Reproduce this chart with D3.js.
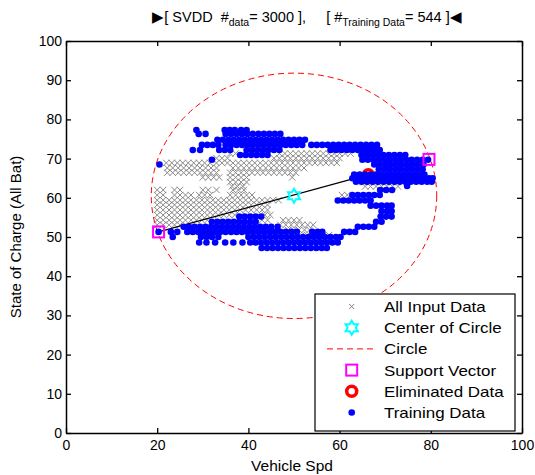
<!DOCTYPE html>
<html><head><meta charset="utf-8">
<script src="https://cdn.jsdelivr.net/npm/d3@7"></script>
<style>body{margin:0;background:#fff}svg text{font-family:"Liberation Sans",Arial,sans-serif;white-space:pre}</style>
</head><body><svg id="c" width="535" height="475"></svg>
<script>
const xTicks=[0,20,40,60,80,100];
const yTicks=[0,10,20,30,40,50,60,70,80,90,100];
// each row: [SOC, speed1, speed2, ...]
const allInputRows=[
[71.3,36.0,37.2,46.8,48.0,49.2,50.4,51.6,52.8,54.0,55.2,56.4,57.6,58.8,60.0,61.2,62.4],
[70.1,33.0,34.2,35.4,45.6,46.8,48.0,49.2,50.4,51.6,52.8,54.0,55.2,56.4,57.6,58.8,60.0],
[68.9,22.0,23.2,24.4,25.6,26.8,28.0,29.2,30.4,31.6,33.0,34.2,35.4,36.6,37.8,39.0,40.2,41.4,42.6,43.8,45.0,46.2,47.4,48.6,49.8,51.0,52.2,53.4,54.6,55.8,57.0,58.2,59.4],
[67.6,22.2,23.4,24.6,25.8,27.0,28.2,29.4,30.6,31.8,33.0,36.6,37.8,39.0,40.2,41.4,42.6,43.8,45.0,46.2,47.4,48.6,49.8,51.0,52.2],
[66.4,22.2,23.4,24.6,25.8,27.0,28.2,29.4,30.6,31.8,33.0,36.0,37.2,38.4,39.6,40.8,42.0,43.2,44.4,45.6,46.8,48.0,49.2,50.4],
[65.2,30.0,31.2,32.4,33.6,36.0,37.2,38.4,39.6,49.6],
[64.0,36.0,37.2,38.4,39.6,65.4,66.6,67.8,69.0,70.2,71.4,72.6,73.8],
[62.9,36.4,37.6,38.8,65.6,66.8,68.0,69.2,70.4,71.6,72.8],
[62.0,20.0,21.3,23.8,25.0,30.0,31.2,33.0,36.6,37.8,39.0],
[60.7,20.0,21.3,23.8,25.0,26.2,27.4,29.2,30.4,31.6,36.0,37.2,38.4,39.6,40.8,60.5,61.7],
[59.4,20.0,21.3,22.6,23.8,25.0,26.2,27.4,28.6,29.8,31.0,32.2,33.4,34.6,35.8,37.0,38.2,39.4,40.6,41.8,43.0,44.2,45.4,46.6],
[58.2,20.0,21.3,22.6,23.8,25.0,26.2,27.4,28.6,29.8,31.0,32.2,33.4,34.6,35.8,37.0,38.2,39.4,40.6,41.8,43.0,44.2],
[56.9,20.0,21.3,22.6,23.8,25.0,26.2,27.4,28.6,29.8,31.0,32.2,33.4,34.6,35.8,37.0,38.2,39.4,40.6,41.8,43.0,44.2],
[55.6,20.0,21.3,22.6,23.8,25.0,26.2,27.4,28.6,29.8,31.0,32.2,33.4,34.6,35.8,37.0,43.6,44.8],
[54.3,20.0,21.3,22.6,23.8,25.0,26.2,27.4,28.6,29.8,31.0,43.0,44.2,47.6,48.8,50.0,51.2],
[53.1,20.0,21.3,22.6,23.8,25.0,47.0,48.2,49.4,50.6,51.8,53.0,54.2],
[51.8,48.7,49.9,51.1,52.3,53.4],
[50.5,50.5,51.7,52.9,54.1,55.3,56.5,57.7],
[49.2,50.5,51.7,52.9,54.1,55.3,56.5,57.7]
];
const trainingRows=[
[77.3,28.6,34.8,35.9,37.0,38.4,39.6],
[76.3,29.1,30.6,35.0,36.2,37.4,38.6,39.8,41.0,42.2,43.4,44.6,45.8,47.0],
[74.8,33.2,34.4,35.6,36.8,38.0,39.2,40.4,41.6,42.8,44.0,45.2,46.4,47.6,48.8,50.0,51.2,52.4],
[73.5,29.8,31.0,32.2,33.4,35.0,36.2,37.4,38.6,39.8,41.0,42.2,43.4,44.6,45.8,47.0,48.2,49.4,50.6,51.8,53.8,55.0,56.2,57.4,58.6,59.8,61.0,62.2,63.4,64.6,65.8,67.0,68.2],
[72.2,27.8,29.4,33.6,34.8,36.0,39.6,40.8,42.0,43.2,44.4,45.6,46.8,58.0,59.2,60.4,61.6,62.8,64.0,65.2,66.4,67.6,68.8],
[70.9,38.2,39.4,40.6,41.8,43.0,44.2,64.8,66.0,67.2,68.4,69.6,70.8,72.0,73.2,74.4],
[69.7,32.0,65.0,66.2,67.4,68.6,69.8,71.0,72.2,73.4,74.6,75.8,77.0,78.2,79.4],
[68.5,20.5,67.6,68.8,70.0,71.2,72.4,73.6,74.8,76.0,77.2,78.4],
[67.3,68.6,69.8,71.0,72.2,73.4,74.6,75.8,77.0,78.2],
[65.9,63.2,64.4,65.6,66.8,68.0,69.2,70.4,71.6,72.8,74.0,75.2,76.4,77.6,78.6],
[65.0,62.8,64.0,65.2,66.4,67.6,68.8,70.0,71.2,72.4,73.6,74.8,76.0,77.2,78.4,79.6,80.4],
[64.1,63.6,64.8,66.0,67.2,68.4,69.6,70.8,72.0,73.2,74.4,75.6,76.8,78.0,79.2,80.2],
[63.0,74.8],
[62.0,68.9,70.2,71.5],
[60.7,62.8,64.0,65.2,66.4,67.6,68.8],
[59.3,59.6,60.8,62.0,63.2,64.4,65.6,66.8],
[58.0,66.8,68.0,69.2,70.4,71.4],
[56.6,69.2,70.4,71.4],
[55.2,38.0,39.2,40.4,41.6,42.8,69.0,70.2,71.4],
[53.9,32.0,33.2,34.4,35.6,36.8,38.0,39.2,40.4,41.6,68.0,69.2],
[52.6,25.8,27.0,28.2,29.4,30.6,31.8,33.0,34.2,35.4,36.6,37.8,39.0,40.2,41.4,42.6,43.8,45.0,46.4,64.0,65.2,66.4,67.6],
[51.3,20.3,23.0,24.4,26.6,27.8,29.0,30.2,31.4,32.6,33.8,35.0,36.2,37.4,38.6,39.8,41.0,42.2,43.4,44.6,45.8,47.0,48.2,49.4,50.6,54.0,55.2,56.2,61.0,62.2,63.4],
[50.0,23.4,29.6,30.8,32.0,33.4,40.0,41.2,42.4,43.6,44.8,46.0,47.2,48.4,49.6,50.8,52.0,53.2,54.4,55.6,56.8,58.0,59.2,60.2],
[48.6,29.2,30.8,32.7,34.9,36.7,38.7,40.4,41.6,42.8,44.0,45.2,46.4,47.6,48.8,50.0,51.2,52.4,53.6,54.8,56.0,57.2,58.4,59.6],
[47.2,42.9,44.1,45.3,46.5,47.7,48.9,50.1,51.3,52.5,53.7,54.9,56.1,57.2]
];
const circleCenter=[50,60.5];
const circleRadius=31.3;
const supportVectors=[[20.3,51.3],[79.6,69.8]];
const eliminatedData=[[66.3,65.9]];
const radiusLine=[[20.3,51.3],[66.3,65.9]];
const legendLabels=["All Input Data","Center of Circle","Circle","Support Vector","Eliminated Data","Training Data"];

const svg=d3.select("#c");
const x=d3.scaleLinear().domain([0,100]).range([66,522]);
const y=d3.scaleLinear().domain([0,100]).range([433,41]);
const FS=14;

function rowsToPoints(rows){const p=[];rows.forEach(r=>{for(let i=1;i<r.length;i++)p.push([r[i],r[0]]);});return p;}
const allPts=rowsToPoints(allInputRows), trainPts=rowsToPoints(trainingRows);

function hexagram(R){const r=R/Math.sqrt(3);let d="";for(let i=0;i<12;i++){const a=-Math.PI/2+i*Math.PI/6;const rr=i%2?r:R;d+=(i?"L":"M")+(rr*Math.cos(a)).toFixed(2)+","+(rr*Math.sin(a)).toFixed(2);}return d+"Z";}
const xMark="M-3.2,-3.2L3.2,3.2M-3.2,3.2L3.2,-3.2";

// all input data
svg.append("g").selectAll("path").data(allPts).join("path")
 .attr("transform",d=>`translate(${x(d[0])},${y(d[1])})`).attr("d",xMark)
 .attr("stroke","#8a8a8a").attr("stroke-width",1).attr("fill","none");

// circle
svg.append("ellipse").attr("cx",x(circleCenter[0])).attr("cy",y(circleCenter[1]))
 .attr("rx",x(circleCenter[0]+circleRadius)-x(circleCenter[0]))
 .attr("ry",y(circleCenter[1])-y(circleCenter[1]+circleRadius))
 .attr("fill","none").attr("stroke","#ff0000").attr("stroke-width",1).attr("stroke-dasharray","6,4");

// radius line
svg.append("path").attr("d",d3.line().x(d=>x(d[0])).y(d=>y(d[1]))(radiusLine))
 .attr("stroke","#000").attr("stroke-width",1.2).attr("fill","none");

// center
svg.append("path").attr("transform",`translate(${x(circleCenter[0])},${y(circleCenter[1])})`)
 .attr("d",hexagram(7)).attr("fill","none").attr("stroke","#00ffff").attr("stroke-width",2);

// eliminated
svg.append("g").selectAll("circle").data(eliminatedData).join("circle")
 .attr("cx",d=>x(d[0])).attr("cy",d=>y(d[1])).attr("r",5).attr("fill","#fff")
 .attr("stroke","#ff0000").attr("stroke-width",3.5);

// training
svg.append("g").selectAll("circle").data(trainPts).join("circle")
 .attr("cx",d=>x(d[0])).attr("cy",d=>y(d[1])).attr("r",3.3).attr("fill","#0000ff");

// support vectors
svg.append("g").selectAll("rect").data(supportVectors).join("rect")
 .attr("x",d=>x(d[0])-5.5).attr("y",d=>y(d[1])-5.5).attr("width",11).attr("height",11)
 .attr("fill","none").attr("stroke","#ff00ff").attr("stroke-width",2);

// axes
function styleAxis(g){g.selectAll("path,line").attr("stroke","#000").attr("stroke-width",1.3);g.selectAll("text").attr("font-size",FS).attr("fill","#000").attr("font-family","Liberation Sans, Arial, sans-serif");}
svg.append("g").attr("transform","translate(0,433)").call(d3.axisBottom(x).tickValues(xTicks).tickSizeInner(-5).tickSizeOuter(0).tickPadding(7)).call(styleAxis);
svg.append("g").attr("transform","translate(0,41)").call(d3.axisTop(x).tickValues(xTicks).tickSizeInner(-5).tickSizeOuter(0).tickFormat("")).call(styleAxis);
svg.append("g").attr("transform","translate(66,0)").call(d3.axisLeft(y).tickValues(yTicks).tickSizeInner(-5).tickSizeOuter(0).tickPadding(4)).call(styleAxis);
svg.append("g").attr("transform","translate(522,0)").call(d3.axisRight(y).tickValues(yTicks).tickSizeInner(-5).tickSizeOuter(0).tickFormat("")).call(styleAxis);
svg.selectAll(".domain").attr("stroke-width",1.5);

// labels
svg.append("text").attr("x",292).attr("y",471).attr("text-anchor","middle").attr("font-size",15.5).text("Vehicle Spd");
svg.append("text").attr("transform","translate(21,237) rotate(-90)").attr("text-anchor","middle").attr("font-size",15).text("State of Charge (All Bat)");

// title
const t=svg.append("text").attr("x",307).attr("y",22).attr("text-anchor","middle").attr("font-size",14.5);
t.append("tspan").text("\u25B6[ SVDD  #");
t.append("tspan").attr("dy",4).attr("font-size",10.5).text("data");
t.append("tspan").attr("dy",-4).text("= 3000 ],     [ #");
t.append("tspan").attr("dy",4).attr("font-size",10.5).text("Training Data");
t.append("tspan").attr("dy",-4).text("= 544 ]\u25C0");

// legend
const lg=svg.append("g");
lg.append("rect").attr("x",315).attr("y",294).attr("width",200).attr("height",137).attr("fill","#fff").attr("stroke","#000").attr("stroke-width",1.2);
const rowY=i=>306.5+i*21.2, sx=351.7;
legendLabels.forEach((l,i)=>{lg.append("text").attr("transform",`translate(384,${rowY(i)+5.5}) scale(1.13,1)`).attr("font-size",15).text(l);});
lg.append("path").attr("transform",`translate(${sx},${rowY(0)})`).attr("d","M-2.5,-2.5L2.5,2.5M-2.5,2.5L2.5,-2.5").attr("stroke","#808080").attr("stroke-width",1);
lg.append("path").attr("transform",`translate(${sx},${rowY(1)})`).attr("d",hexagram(7)).attr("fill","none").attr("stroke","#00ffff").attr("stroke-width",2);
lg.append("line").attr("x1",327).attr("x2",374).attr("y1",rowY(2)).attr("y2",rowY(2)).attr("stroke","#ff0000").attr("stroke-width",1).attr("stroke-dasharray","6,4");
lg.append("rect").attr("x",sx-5.5).attr("y",rowY(3)-5.5).attr("width",11).attr("height",11).attr("fill","none").attr("stroke","#ff00ff").attr("stroke-width",2);
lg.append("circle").attr("cx",sx).attr("cy",rowY(4)).attr("r",5).attr("fill","#fff").attr("stroke","#ff0000").attr("stroke-width",3.5);
lg.append("circle").attr("cx",sx).attr("cy",rowY(5)).attr("r",3.3).attr("fill","#0000ff");
</script></body></html>
